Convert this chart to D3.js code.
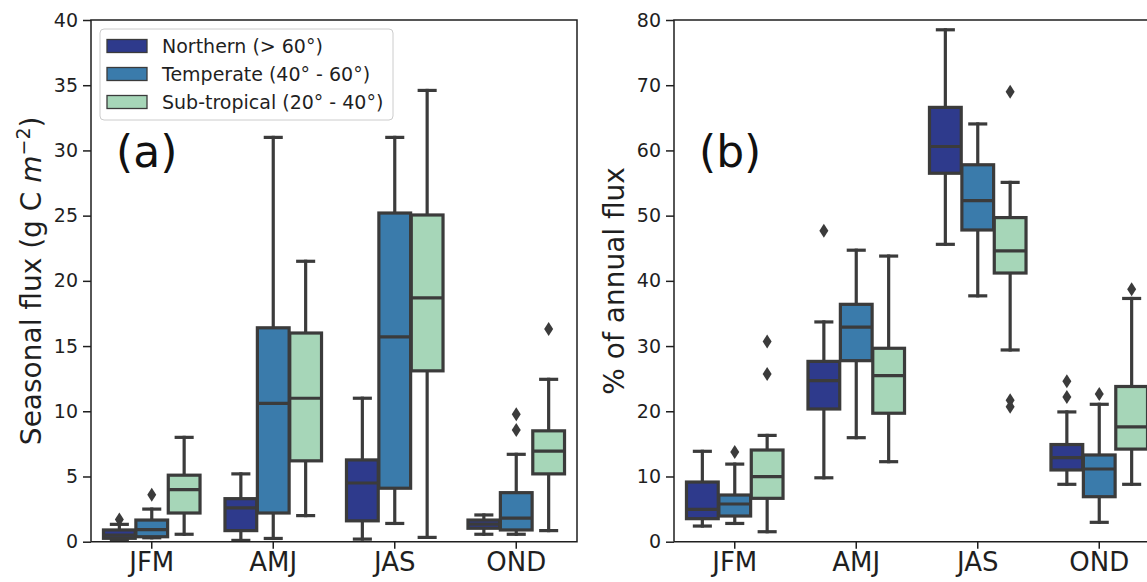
<!DOCTYPE html>
<html>
<head>
<meta charset="utf-8">
<script src="https://cdn.jsdelivr.net/npm/d3@7"></script>
<style>
	body { margin: 0; background: #fff; }
	svg { display: block; font-family: "DejaVu Sans", sans-serif; }
</style>
</head>
<body>
<script>
var seasons = ["JFM", "AMJ", "JAS", "OND"];
var zones = ["Northern (> 60°)", "Temperate (40° - 60°)", "Sub-tropical (20° - 40°)"];

// (a) seasonal flux, per season: [low whisker, q1, median, q3, high whisker]
var fluxNorthern = [[0.13, 0.26, 0.5, 0.9, 1.33], [0.1, 0.85, 2.6, 3.3, 5.2], [0.2, 1.6, 4.5, 6.27, 11.0], [0.57, 1.03, 1.35, 1.66, 2.05]];
var fluxTemperate = [[0.3, 0.38, 0.92, 1.66, 2.5], [0.25, 2.2, 10.6, 16.4, 31.0], [1.4, 4.1, 15.7, 25.2, 31.0], [0.57, 0.9, 1.8, 3.76, 6.7]];
var fluxSubtropical = [[0.57, 2.2, 4.0, 5.1, 8.0], [2.0, 6.2, 11.0, 16.0, 21.5], [0.33, 13.1, 18.7, 25.05, 34.6], [0.85, 5.2, 6.95, 8.5, 12.45]];
var fluxOutNorthern = [[1.7], [], [], []];
var fluxOutTemperate = [[3.6], [], [], [9.77, 8.57]];
var fluxOutSubtropical = [[], [], [], [16.3]];
var fluxTicks = [0, 5, 10, 15, 20, 25, 30, 35, 40];

// (b) % of annual flux
var pctNorthern = [[2.4, 3.53, 4.97, 9.15, 13.86], [9.8, 20.35, 24.7, 27.65, 33.7], [45.6, 56.5, 60.6, 66.6, 78.5], [8.8, 11.0, 12.9, 14.9, 19.9]];
var pctTemperate = [[2.8, 3.94, 5.78, 7.16, 11.9], [15.95, 27.76, 32.9, 36.4, 44.7], [37.7, 47.8, 52.3, 57.8, 64.06], [2.97, 6.9, 11.15, 13.3, 21.07]];
var pctSubtropical = [[1.53, 6.65, 9.97, 14.06, 16.3], [12.27, 19.7, 25.46, 29.66, 43.8], [29.4, 41.2, 44.6, 49.7, 55.1], [8.8, 14.2, 17.6, 23.8, 37.3]];
var pctOutNorthern = [[], [47.7], [], [24.6, 22.2]];
var pctOutTemperate = [[13.75], [], [], [22.65]];
var pctOutSubtropical = [[30.7, 25.7], [], [69.0, 21.7, 20.7], [38.7]];
var pctTicks = [0, 10, 20, 30, 40, 50, 60, 70, 80];

var colours = ["#2e3a8c", "#3a7bab", "#a6d6b8"];
var grey = "#3b3b3b";
var ink = "#1f1f1f";

window.onload = function() {
	chart.init();
}

var chart = {

	svg: null,
	top: 20,
	bottom: 541.7,
	lw: 3.2,

	init: function() {
		this.svg = d3.select("body")
			.append("svg")
			.attr("width", 1147)
			.attr("height", 582);

		this.panel({
			left: 91, right: 577, max: 40, ticks: fluxTicks,
			stats: [fluxNorthern, fluxTemperate, fluxSubtropical],
			outliers: [fluxOutNorthern, fluxOutTemperate, fluxOutSubtropical],
			tag: "(a)", labelX: 41, rightSpine: true,
			label: function(t) {
				t.append("tspan").text("Seasonal flux (g C ");
				t.append("tspan").attr("font-style", "italic").text("m");
				t.append("tspan").attr("font-size", 19).attr("dy", -11).text("\u22122");
				t.append("tspan").attr("dy", 11).text(")");
			}
		});

		this.panel({
			left: 674, right: 1160, max: 80, ticks: pctTicks,
			stats: [pctNorthern, pctTemperate, pctSubtropical],
			outliers: [pctOutNorthern, pctOutTemperate, pctOutSubtropical],
			tag: "(b)", labelX: 623.5, rightSpine: false,
			label: function(t) { t.text("% of annual flux"); }
		});

		this.legend(100, 29);
	},

	panel: function(p) {
		var self = this;
		var x = d3.scaleBand().domain(seasons).range([p.left, p.right]);
		var hue = d3.scaleBand().domain(zones).range([0.1 * x.bandwidth(), 0.9 * x.bandwidth()]);
		var y = d3.scaleLinear().domain([0, p.max]).range([this.bottom, this.top]);
		var boxW = hue.bandwidth() * 0.98;
		var capW = boxW / 2;
		var g = this.svg.append("g");

		// seaborn draws season by season, zone by zone
		seasons.forEach(function(season, i) {
			zones.forEach(function(zone, j) {
				var s = p.stats[j][i];
				var cx = x(season) + hue(zone) + hue.bandwidth() / 2;
				var b = g.append("g")
					.attr("stroke", grey)
					.attr("stroke-width", self.lw);

				b.append("line").attr("x1", cx).attr("x2", cx)
					.attr("y1", y(s[1])).attr("y2", y(s[0]))
					.attr("stroke-linecap", "square");
				b.append("line").attr("x1", cx).attr("x2", cx)
					.attr("y1", y(s[3])).attr("y2", y(s[4]))
					.attr("stroke-linecap", "square");
				[s[0], s[4]].forEach(function(v) {
					b.append("line")
						.attr("x1", cx - capW / 2).attr("x2", cx + capW / 2)
						.attr("y1", y(v)).attr("y2", y(v))
						.attr("stroke-linecap", "square");
				});
				b.append("rect")
					.attr("x", cx - boxW / 2)
					.attr("width", boxW)
					.attr("y", y(s[3]))
					.attr("height", y(s[1]) - y(s[3]))
					.attr("fill", colours[j]);
				b.append("line")
					.attr("x1", cx - boxW / 2).attr("x2", cx + boxW / 2)
					.attr("y1", y(s[2])).attr("y2", y(s[2]));

				b.selectAll("path.flier")
					.data(p.outliers[j][i])
					.enter()
					.append("path")
					.attr("class", "flier")
					.attr("stroke", "none")
					.attr("fill", grey)
					.attr("d", function(v) { return self.diamond(cx, y(v)); });
			});
		});

		// spines
		g.append("path")
			.attr("fill", "none")
			.attr("stroke", ink)
			.attr("stroke-width", 1.5)
			.attr("d", "M" + p.left + "," + this.bottom + "V" + this.top + "H" + p.right
				+ (p.rightSpine ? "V" + this.bottom : "M" + p.right + "," + this.bottom)
				+ "H" + p.left);

		var ya = g.append("g")
			.attr("transform", "translate(" + p.left + ",0)")
			.call(d3.axisLeft(y).tickValues(p.ticks).tickSize(8).tickPadding(5));
		var xa = g.append("g")
			.attr("transform", "translate(0," + this.bottom + ")")
			.call(d3.axisBottom(x).tickSize(7).tickPadding(4));
		[ya, xa].forEach(function(a) {
			a.attr("font-family", null);
			a.select(".domain").remove();
			a.selectAll(".tick line").attr("stroke", ink).attr("stroke-width", 1.5);
			a.selectAll(".tick text").attr("fill", ink);
		});
		ya.attr("font-size", 19);
		xa.attr("font-size", 26);

		g.append("text")
			.attr("x", p.left + 25)
			.attr("y", 167)
			.attr("font-size", 44)
			.attr("fill", "#111")
			.text(p.tag);

		var lab = g.append("text")
			.attr("transform", "translate(" + p.labelX + "," + (this.top + this.bottom) / 2 + ") rotate(-90)")
			.attr("text-anchor", "middle")
			.attr("font-size", 28)
			.attr("fill", ink);
		p.label(lab);
	},

	legend: function(lx, ly) {
		var l = this.svg.append("g").attr("transform", "translate(" + lx + "," + ly + ")");
		l.append("rect")
			.attr("width", 293).attr("height", 91).attr("rx", 4)
			.attr("fill", "#fff").attr("fill-opacity", 0.8)
			.attr("stroke", "#cccccc").attr("stroke-width", 1);
		zones.forEach(function(z, j) {
			var cy = 17 + j * 28;
			l.append("rect")
				.attr("x", 7).attr("y", cy - 6.5)
				.attr("width", 40).attr("height", 13)
				.attr("fill", colours[j])
				.attr("stroke", grey).attr("stroke-width", 1.3);
			l.append("text")
				.attr("x", 62).attr("y", cy + 7)
				.attr("font-size", 19)
				.attr("fill", ink)
				.text(z);
		});
	},

	diamond: function(cx, cy) {
		return "M" + cx + "," + (cy - 7) + "L" + (cx + 4.5) + "," + cy
			+ "L" + cx + "," + (cy + 7) + "L" + (cx - 4.5) + "," + cy + "Z";
	}

};
</script>
</body>
</html>
